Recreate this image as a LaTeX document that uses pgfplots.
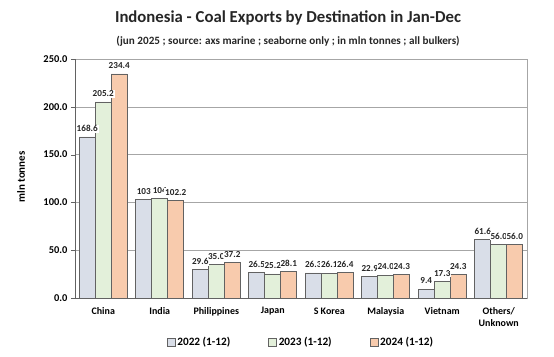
\documentclass[border=0pt]{standalone}
\usepackage{pgfplots}
\usepackage{pgfplotstable}
\pgfplotsset{compat=1.18}
\usepackage{fontspec}
\setmainfont{Carlito}
\definecolor{cA}{HTML}{D9DEE8}
\definecolor{cB}{HTML}{E3F0DA}
\definecolor{cC}{HTML}{F8CBAD}
\definecolor{edge}{HTML}{626262}
\definecolor{gridc}{HTML}{A6A6A6}

\pgfplotstableread{
x y lab
0 168.6 168.6
1 103.0 103
2 29.6 29.6
3 26.5 26.5
4 26.3 26.3
5 22.9 22.9
6 9.4 9.4
7 61.6 61.6
}\tA
\pgfplotstableread{
x y lab
0 205.2 205.2
1 104.0 104
2 35.0 35.0
3 25.2 25.2
4 26.1 26.1
5 24.0 24.0
6 17.3 17.3
7 56.0 56.0
}\tB
\pgfplotstableread{
x y lab
0 234.4 234.4
1 102.2 102.2
2 37.2 37.2
3 28.1 28.1
4 26.4 26.4
5 24.3 24.3
6 24.3 24.3
7 56.0 56.0
}\tC

\begin{document}
\begin{tikzpicture}
\path[use as bounding box] (-75bp,-59bp) rectangle (479bp,298bp);
\begin{axis}[
  scale only axis,
  width=452bp, height=239bp,
  ybar=0pt, bar width=16bp,
  xmin=-0.5, xmax=7.5,
  ymin=0, ymax=250,
  ytick={0,50,100,150,200,250},
  xtick=data,
  xticklabels={China,India,Philippines,Japan,S Korea,Malaysia,Vietnam,{Others/\\Unknown}},
  xticklabel style={align=center, font=\bfseries\fontsize{10}{12}\selectfont, yshift=-2bp},
  yticklabel style={font=\bfseries\fontsize{10.5}{12}\selectfont},
  /pgf/number format/assume math mode=true,
  yticklabel={\pgfmathprintnumber[fixed,fixed zerofill,precision=1]{\tick}},
  xtick style={draw=none},
  ytick pos=left,
  tick align=outside,
  major tick length=4bp,
  ytick style={draw=edge},
  ymajorgrids,
  grid style={gridc, line width=0.6pt},
  axis line style={draw=gridc, line width=0.6pt},
  point meta=explicit symbolic,
  nodes near coords style={font=\bfseries\fontsize{9.2}{10}\selectfont, text=black!85, fill=white, inner sep=0.8pt, anchor=south, yshift=4bp},
  legend style={at={(0.5,-0.145)}, anchor=north, draw=none, legend columns=3,
    font=\bfseries\fontsize{11.3}{13}\selectfont,
    /tikz/every even column/.append style={column sep=36bp}},
  legend image code/.code={\draw[#1, draw=edge, line width=0.5pt] (0bp,-4bp) rectangle (8bp,4bp);},
  clip=false,
]
\addplot[fill=cA, draw=edge, line width=0.6pt, bar shift=-16bp] table[x=x,y=y] {\tA};
\addplot[fill=cB, draw=edge, line width=0.6pt, bar shift=0bp] table[x=x,y=y] {\tB};
\addplot[fill=cC, draw=edge, line width=0.6pt, bar shift=16bp] table[x=x,y=y] {\tC};
\legend{2022 (1-12),2023 (1-12),2024 (1-12)}
\addplot[draw=none, fill=none, bar shift=-16bp, nodes near coords, forget plot] table[x=x,y=y,meta=lab] {\tA};
\addplot[draw=none, fill=none, bar shift=0bp, nodes near coords, forget plot] table[x=x,y=y,meta=lab] {\tB};
\addplot[draw=none, fill=none, bar shift=16bp, nodes near coords, forget plot] table[x=x,y=y,meta=lab] {\tC};
\draw[edge, line width=0.8pt] (rel axis cs:0,0) -- (rel axis cs:0,1);
\draw[edge, line width=0.8pt] (rel axis cs:0,0) -- (rel axis cs:1,0);
\end{axis}
\node[font=\bfseries\fontsize{16.8}{18}\selectfont, text=black!85] at (213bp,280bp) {Indonesia - Coal Exports by Destination in Jan-Dec};
\node[font=\bfseries\fontsize{11.2}{13}\selectfont, text=black!85] at (213bp,257bp) {(jun 2025 ; source: axs marine ; seaborne only ; in mln tonnes ; all bulkers)};
\node[rotate=90, font=\bfseries\fontsize{11}{12}\selectfont] at (-54bp,121bp) {mln tonnes};
\end{tikzpicture}
\end{document}
